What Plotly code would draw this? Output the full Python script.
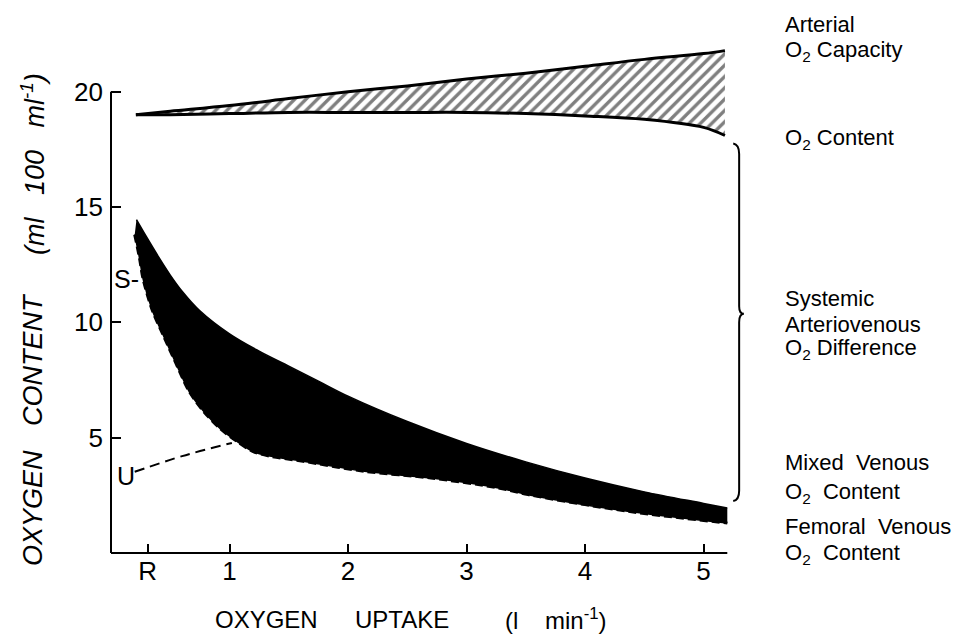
import plotly.graph_objects as go

# Arterial O2 capacity / content (hatched band)
art_x = [0.21, 0.5, 1, 1.5, 2, 2.5, 3, 3.5, 4, 4.5, 5, 5.18]
art_capacity = [19.0, 19.15, 19.4, 19.7, 20.0, 20.25, 20.55, 20.8, 21.1, 21.4, 21.65, 21.78]
art_content = [19.0, 19.0, 19.05, 19.1, 19.1, 19.1, 19.1, 19.05, 18.95, 18.8, 18.45, 18.1]

# Mixed venous (upper edge of the dark band)
mixed_x = [0.215, 0.3, 0.4, 0.5, 0.6, 0.75, 1.0, 1.25, 1.5, 1.75, 2.0, 2.5, 3.0, 3.5, 4.0, 4.5, 5.0, 5.2]
mixed_venous = [14.45, 13.7, 12.85, 12.05, 11.35, 10.5, 9.5, 8.75, 8.1, 7.45, 6.8, 5.7, 4.75, 3.95, 3.25, 2.65, 2.15, 1.95]

# Femoral venous (lower edge of the dark band)
fem_x = [0.2, 0.24, 0.27, 0.35, 0.44, 0.55, 0.66, 0.78, 0.92, 1.06, 1.2, 1.34, 1.62, 2.14, 2.7, 3.27, 3.52, 4.36, 5.2]
femoral_venous = [13.8, 12.8, 11.9, 10.5, 9.45, 8.2, 7.0, 6.15, 5.4, 4.85, 4.4, 4.2, 3.98, 3.54, 3.25, 2.82, 2.53, 1.81, 1.3]

# dashed "U" curve
u_x = [0.2, 0.6, 1.02]
u_y = [3.52, 4.2, 4.77]

tick_vals = [0.31, 1, 2, 3, 4, 5]
tick_text = ['R', '1', '2', '3', '4', '5']
y_ticks = [5, 10, 15, 20]

FONT = 'Liberation Sans'
X_MAX, Y_MAX = 5.4, 22.5
# plot area in pixels (used to place the outside labels)
L, R, T, B = 103, 743, 26, 545


def px(x):
    return (x - L) / (R - L)


def py(y):
    return (B - y) / (B - T)


fig = go.Figure()

# arterial band
fig.add_trace(go.Scatter(x=art_x, y=art_content, mode='lines', line_shape='spline',
                         line=dict(color='black', width=3), hoverinfo='skip'))
fig.add_trace(go.Scatter(x=art_x, y=art_capacity, mode='lines', line_shape='spline',
                         fill='tonexty', fillcolor='white',
                         fillpattern=dict(shape='/', fgcolor='black', bgcolor='white',
                                          size=8, solidity=0.42),
                         line=dict(color='black', width=3), hoverinfo='skip'))

# venous band: femoral edge, then mixed edge filled down to it
fig.add_trace(go.Scatter(x=fem_x, y=femoral_venous, mode='lines', line_shape='spline',
                         line_smoothing=0.9, line=dict(color='black', width=1.5),
                         hoverinfo='skip'))
fig.add_trace(go.Scatter(x=mixed_x, y=mixed_venous, mode='lines', line_shape='spline',
                         line_smoothing=1.0, fill='tonexty', fillcolor='black',
                         line=dict(color='black', width=1.5), hoverinfo='skip'))
fig.add_trace(go.Scatter(x=fem_x, y=femoral_venous, mode='lines', line_shape='spline',
                         line_smoothing=0.9,
                         line=dict(color='black', width=3, dash='8px,4px'),
                         hoverinfo='skip'))
fig.add_trace(go.Scatter(x=u_x, y=u_y, mode='lines', line_shape='spline',
                         line=dict(color='black', width=2, dash='10px,6px'),
                         hoverinfo='skip'))

# hand-drawn axis lines (y axis stops at 20, x axis at 5.2)
fig.add_shape(type='line', xref='paper', yref='paper', x0=0, x1=5.2 / X_MAX,
              y0=0, y1=0, line=dict(color='black', width=2))
fig.add_shape(type='line', xref='paper', yref='paper', x0=0, x1=0,
              y0=0, y1=20 / Y_MAX, line=dict(color='black', width=2))

# brace on the right
fig.add_shape(type='path', xref='x', yref='y',
              path='M 5.25,17.75 Q 5.30,17.7 5.30,17.3 L 5.30,10.7 '
                   'Q 5.30,10.37 5.34,10.37 Q 5.30,10.37 5.30,10.0 '
                   'L 5.30,2.7 Q 5.30,2.3 5.25,2.25',
              line=dict(color='black', width=2))

fig.add_annotation(x=0.13, y=11.9, text='S-', showarrow=False,
                   xanchor='center', yanchor='middle',
                   font=dict(family=FONT, size=25, color='black'))
fig.add_annotation(x=0.13, y=3.35, text='U', showarrow=False,
                   xanchor='center', yanchor='middle',
                   font=dict(family=FONT, size=25, color='black'))

# right-hand labels, one per line
right_lines = [
    ('Arterial', 16),
    ('O<sub>2</sub> Capacity', 43),
    ('O<sub>2</sub> Content', 131),
    ('Systemic', 290),
    ('Arteriovenous', 316),
    ('O<sub>2</sub> Difference', 341),
    ('Mixed  Venous', 454),
    ('O<sub>2</sub>  Content', 485),
    ('Femoral  Venous', 518),
    ('O<sub>2</sub>  Content', 546),
]
for txt, ypix in right_lines:
    fig.add_annotation(xref='paper', yref='paper', x=px(775), y=py(ypix), text=txt,
                       showarrow=False, xanchor='left', yanchor='middle', align='left',
                       font=dict(family=FONT, size=22, color='black'))

# y axis title, in three pieces spaced like the lettering
y_title = [('OXYGEN', 500), ('CONTENT', 352), ('(ml   100   ml<sup>-1</sup>)', 156)]
for txt, ypix in y_title:
    fig.add_annotation(xref='paper', yref='paper', x=px(25), y=py(ypix), textangle=-90,
                       text=f'<i>{txt}</i>', showarrow=False,
                       xanchor='center', yanchor='middle',
                       font=dict(family=FONT, size=27, color='black'))

# x axis title
x_title = [('OXYGEN', 258), ('UPTAKE', 394), ('(l    min<sup>-1</sup>)', 548)]
for txt, xpix in x_title:
    fig.add_annotation(xref='paper', yref='paper', x=px(xpix), y=py(611), text=txt,
                       showarrow=False, xanchor='center', yanchor='middle',
                       font=dict(family=FONT, size=24, color='black'))

fig.update_layout(
    width=971, height=636, autosize=False,
    margin=dict(l=L, r=971 - R, t=T, b=636 - B),
    paper_bgcolor='white', plot_bgcolor='white',
    showlegend=False,
)
fig.update_xaxes(range=[0, X_MAX], showline=False, showgrid=False, zeroline=False,
                 ticks='inside', ticklen=9, tickwidth=2, tickcolor='black',
                 tickvals=tick_vals, ticktext=tick_text, ticklabelstandoff=0,
                 tickfont=dict(family=FONT, size=26, color='black'))
fig.update_yaxes(range=[0, Y_MAX], showline=False, showgrid=False, zeroline=False,
                 ticks='inside', ticklen=10, tickwidth=2, tickcolor='black',
                 tickvals=y_ticks, ticklabelstandoff=7,
                 tickfont=dict(family=FONT, size=26, color='black'))

fig.write_html('out.html')
